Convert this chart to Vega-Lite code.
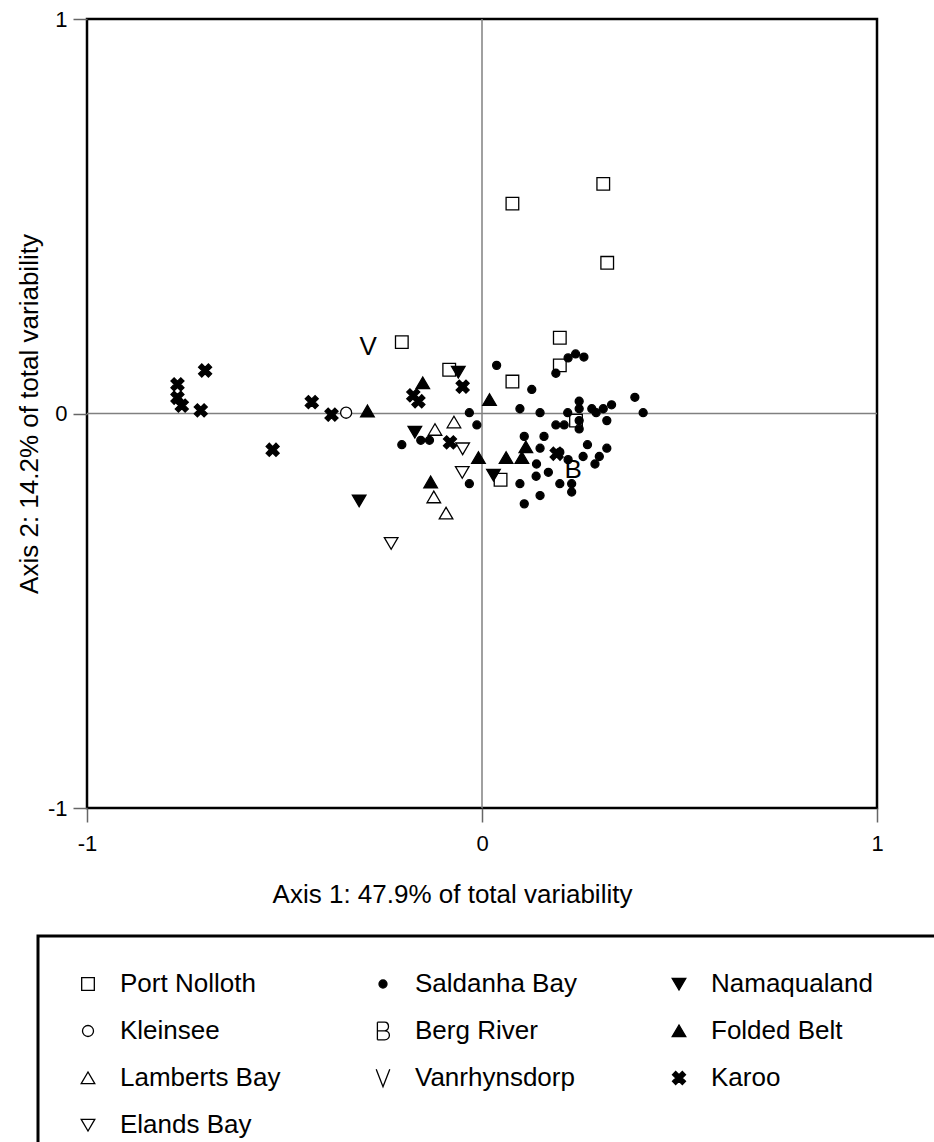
{
  "$schema": "https://vega.github.io/schema/vega-lite/v6.json",
  "width": 790,
  "height": 789,
  "autosize": {"type": "none"},
  "padding": {"left": 87, "top": 19, "right": 57, "bottom": 334},
  "background": "white",
  "config": {
    "view": {"stroke": "black", "strokeWidth": 2.5},
    "font": "Liberation Sans",
    "axis": {"grid": false, "domain": false, "tickSize": 14, "tickColor": "#666666", "tickWidth": 1.5, "labelFlush": false, "labelFont": "Liberation Sans", "labelFontSize": 22, "labelColor": "black", "titleFont": "Liberation Sans", "titleFontSize": 26, "titleFontWeight": "normal", "titleColor": "black", "labelOverlap": false}
  },
  "data": {"values": [
    {"site": "Port Nolloth", "x": 0.307, "y": 0.582},
    {"site": "Port Nolloth", "x": 0.077, "y": 0.532},
    {"site": "Port Nolloth", "x": 0.317, "y": 0.382},
    {"site": "Port Nolloth", "x": 0.197, "y": 0.192},
    {"site": "Port Nolloth", "x": 0.197, "y": 0.122},
    {"site": "Port Nolloth", "x": 0.077, "y": 0.081},
    {"site": "Port Nolloth", "x": -0.083, "y": 0.111},
    {"site": "Port Nolloth", "x": -0.203, "y": 0.181},
    {"site": "Port Nolloth", "x": 0.238, "y": -0.018},
    {"site": "Port Nolloth", "x": 0.047, "y": -0.168},
    {"site": "Saldanha Bay", "x": 0.037, "y": 0.122},
    {"site": "Saldanha Bay", "x": 0.187, "y": 0.102},
    {"site": "Saldanha Bay", "x": 0.218, "y": 0.141},
    {"site": "Saldanha Bay", "x": 0.237, "y": 0.151},
    {"site": "Saldanha Bay", "x": 0.258, "y": 0.143},
    {"site": "Saldanha Bay", "x": 0.126, "y": 0.061},
    {"site": "Saldanha Bay", "x": 0.096, "y": 0.012},
    {"site": "Saldanha Bay", "x": 0.147, "y": 0.002},
    {"site": "Saldanha Bay", "x": 0.217, "y": 0.002},
    {"site": "Saldanha Bay", "x": 0.246, "y": 0.031},
    {"site": "Saldanha Bay", "x": 0.246, "y": 0.012},
    {"site": "Saldanha Bay", "x": 0.278, "y": 0.012},
    {"site": "Saldanha Bay", "x": 0.289, "y": 0.002},
    {"site": "Saldanha Bay", "x": 0.307, "y": 0.012},
    {"site": "Saldanha Bay", "x": 0.328, "y": 0.022},
    {"site": "Saldanha Bay", "x": 0.387, "y": 0.041},
    {"site": "Saldanha Bay", "x": 0.408, "y": 0.002},
    {"site": "Saldanha Bay", "x": 0.246, "y": -0.018},
    {"site": "Saldanha Bay", "x": 0.246, "y": -0.039},
    {"site": "Saldanha Bay", "x": 0.316, "y": -0.018},
    {"site": "Saldanha Bay", "x": 0.187, "y": -0.029},
    {"site": "Saldanha Bay", "x": 0.208, "y": -0.029},
    {"site": "Saldanha Bay", "x": 0.107, "y": -0.058},
    {"site": "Saldanha Bay", "x": 0.157, "y": -0.058},
    {"site": "Saldanha Bay", "x": 0.147, "y": -0.088},
    {"site": "Saldanha Bay", "x": 0.197, "y": -0.098},
    {"site": "Saldanha Bay", "x": 0.218, "y": -0.117},
    {"site": "Saldanha Bay", "x": 0.267, "y": -0.079},
    {"site": "Saldanha Bay", "x": 0.256, "y": -0.109},
    {"site": "Saldanha Bay", "x": 0.297, "y": -0.109},
    {"site": "Saldanha Bay", "x": 0.316, "y": -0.088},
    {"site": "Saldanha Bay", "x": 0.286, "y": -0.128},
    {"site": "Saldanha Bay", "x": 0.138, "y": -0.128},
    {"site": "Saldanha Bay", "x": 0.168, "y": -0.149},
    {"site": "Saldanha Bay", "x": 0.137, "y": -0.159},
    {"site": "Saldanha Bay", "x": 0.096, "y": -0.178},
    {"site": "Saldanha Bay", "x": 0.197, "y": -0.178},
    {"site": "Saldanha Bay", "x": 0.227, "y": -0.178},
    {"site": "Saldanha Bay", "x": 0.227, "y": -0.199},
    {"site": "Saldanha Bay", "x": 0.147, "y": -0.208},
    {"site": "Saldanha Bay", "x": 0.107, "y": -0.229},
    {"site": "Saldanha Bay", "x": -0.032, "y": 0.002},
    {"site": "Saldanha Bay", "x": -0.013, "y": -0.029},
    {"site": "Saldanha Bay", "x": -0.203, "y": -0.079},
    {"site": "Saldanha Bay", "x": -0.155, "y": -0.068},
    {"site": "Saldanha Bay", "x": -0.133, "y": -0.068},
    {"site": "Saldanha Bay", "x": -0.032, "y": -0.178},
    {"site": "Namaqualand", "x": -0.060, "y": 0.105},
    {"site": "Namaqualand", "x": -0.170, "y": -0.047},
    {"site": "Namaqualand", "x": -0.311, "y": -0.221},
    {"site": "Namaqualand", "x": 0.029, "y": -0.156},
    {"site": "Kleinsee", "x": -0.344, "y": 0.002},
    {"site": "Berg River", "x": 0.231, "y": -0.140, "letter": "B"},
    {"site": "Folded Belt", "x": -0.150, "y": 0.077},
    {"site": "Folded Belt", "x": -0.290, "y": 0.006},
    {"site": "Folded Belt", "x": 0.019, "y": 0.035},
    {"site": "Folded Belt", "x": -0.009, "y": -0.112},
    {"site": "Folded Belt", "x": -0.130, "y": -0.174},
    {"site": "Folded Belt", "x": 0.061, "y": -0.112},
    {"site": "Folded Belt", "x": 0.101, "y": -0.112},
    {"site": "Folded Belt", "x": 0.111, "y": -0.085},
    {"site": "Lamberts Bay", "x": -0.119, "y": -0.041},
    {"site": "Lamberts Bay", "x": -0.071, "y": -0.022},
    {"site": "Lamberts Bay", "x": -0.122, "y": -0.212},
    {"site": "Lamberts Bay", "x": -0.091, "y": -0.253},
    {"site": "Vanrhynsdorp", "x": -0.288, "y": 0.172, "letter": "V"},
    {"site": "Karoo", "x": -0.701, "y": 0.109},
    {"site": "Karoo", "x": -0.771, "y": 0.074},
    {"site": "Karoo", "x": -0.771, "y": 0.040},
    {"site": "Karoo", "x": -0.760, "y": 0.020},
    {"site": "Karoo", "x": -0.712, "y": 0.008},
    {"site": "Karoo", "x": -0.431, "y": 0.029},
    {"site": "Karoo", "x": -0.381, "y": -0.003},
    {"site": "Karoo", "x": -0.530, "y": -0.092},
    {"site": "Karoo", "x": -0.174, "y": 0.046},
    {"site": "Karoo", "x": -0.161, "y": 0.031},
    {"site": "Karoo", "x": -0.049, "y": 0.068},
    {"site": "Karoo", "x": -0.081, "y": -0.073},
    {"site": "Karoo", "x": 0.189, "y": -0.102},
    {"site": "Elands Bay", "x": -0.049, "y": -0.089},
    {"site": "Elands Bay", "x": -0.050, "y": -0.149},
    {"site": "Elands Bay", "x": -0.230, "y": -0.329}
  ]},
  "layer": [
    {
      "data": {"values": [{"x": 0}]},
      "mark": {"type": "rule", "color": "#808080", "strokeWidth": 1.5},
      "encoding": {"x": {"field": "x", "type": "quantitative", "scale": {"domain": [-1, 1], "nice": false, "zero": false},
          "axis": {"values": [-1, 0, 1], "labelExpr": "datum.value < 0 ? '-1' : datum.value > 0 ? '1' : '0'", "title": "Axis 1: 47.9% of total variability", "labelFontSize": 22, "labelPadding": 11, "titlePadding": 27, "titleX": 365, "titleAlign": "center"}}}
    },
    {
      "data": {"values": [{"y": 0}]},
      "mark": {"type": "rule", "color": "#808080", "strokeWidth": 1.5},
      "encoding": {"y": {"field": "y", "type": "quantitative", "scale": {"domain": [-1, 1], "nice": false, "zero": false},
          "axis": {"values": [-1, 0, 1], "labelExpr": "datum.value < 0 ? '-1' : datum.value > 0 ? '1' : '0'", "title": "Axis 2: 14.2% of total variability", "labelFontSize": 22, "labelPadding": 6, "titlePadding": 5}}}
    },
    {
      "transform": [{"filter": "datum.site != 'Berg River' && datum.site != 'Vanrhynsdorp'"}],
      "mark": {"type": "point", "size": 256, "stroke": "black", "strokeWidth": 1.3, "opacity": 1},
      "encoding": {
        "x": {"field": "x", "type": "quantitative", "scale": {"domain": [-1, 1], "nice": false, "zero": false},
          "axis": {"values": [-1, 0, 1], "labelExpr": "datum.value < 0 ? '-1' : datum.value > 0 ? '1' : '0'", "title": "Axis 1: 47.9% of total variability", "labelFontSize": 22, "labelPadding": 11, "titlePadding": 27, "titleX": 365, "titleAlign": "center"}},
        "y": {"field": "y", "type": "quantitative", "scale": {"domain": [-1, 1], "nice": false, "zero": false},
          "axis": {"values": [-1, 0, 1], "labelExpr": "datum.value < 0 ? '-1' : datum.value > 0 ? '1' : '0'", "title": "Axis 2: 14.2% of total variability", "labelFontSize": 22, "labelPadding": 6, "titlePadding": 5}},
        "shape": {"field": "site", "type": "nominal",
          "scale": {
            "domain": ["Port Nolloth", "Saldanha Bay", "Namaqualand", "Kleinsee", "Berg River", "Folded Belt", "Lamberts Bay", "Vanrhynsdorp", "Karoo", "Elands Bay"],
            "range": [
              "M-0.79,-0.79L0.79,-0.79L0.79,0.79L-0.79,0.79Z",
              "M0.5,0A0.5,0.5,0,1,1,-0.5,0A0.5,0.5,0,1,1,0.5,0Z",
              "M-0.85,-0.7L0.85,-0.7L0,0.75Z",
              "M0.69,0A0.69,0.69,0,1,1,-0.69,0A0.69,0.69,0,1,1,0.69,0Z",
              "M-0.7,-1.1L-0.7,1.1M-0.7,-1.1L0.2,-1.1C0.85,-1.1,0.85,-0.02,0.2,-0.02L-0.7,-0.02M0.2,-0.02C1.0,-0.02,1.0,1.1,0.2,1.1L-0.7,1.1",
              "M-0.85,0.7L0.85,0.7L0,-0.75Z",
              "M-0.85,0.7L0.85,0.7L0,-0.75Z",
              "M-0.85,-1.1L0,1.1L0.85,-1.1",
              "M-0.417,0.813L0,0.396L0.417,0.813L0.813,0.417L0.396,0L0.813,-0.417L0.417,-0.813L0,-0.396L-0.417,-0.813L-0.813,-0.417L-0.396,0L-0.813,0.417Z",
              "M-0.85,-0.7L0.85,-0.7L0,0.75Z"
            ]
          },
          "legend": {"orient": "none", "legendX": -49, "legendY": 917, "direction": "horizontal", "columns": 3, "title": null, "padding": 35, "symbolOffset": 2, "symbolSize": 256, "symbolStrokeColor": "black", "symbolStrokeWidth": 1.3, "symbolOpacity": 1, "labelFont": "Liberation Sans", "labelFontSize": 26, "labelColor": "black", "labelOffset": 19, "labelLimit": 500, "rowPadding": 21, "columnPadding": 87, "strokeColor": "black", "labelExpr": "datum.label == 'Namaqualand' ? datum.label + '\u2800\u2800\u2800' : datum.label", "encode": {"legend": {"update": {"strokeWidth": {"value": 3}}}}}
        },
        "fill": {"field": "site", "type": "nominal",
          "scale": {
            "domain": ["Port Nolloth", "Saldanha Bay", "Namaqualand", "Kleinsee", "Berg River", "Folded Belt", "Lamberts Bay", "Vanrhynsdorp", "Karoo", "Elands Bay"],
            "range": ["white", "black", "black", "white", "transparent", "black", "white", "transparent", "black", "white"]
          },
          "legend": {"orient": "none", "legendX": -49, "legendY": 917, "direction": "horizontal", "columns": 3, "title": null, "padding": 35, "symbolOffset": 2, "symbolSize": 256, "symbolStrokeColor": "black", "symbolStrokeWidth": 1.3, "symbolOpacity": 1, "labelFont": "Liberation Sans", "labelFontSize": 26, "labelColor": "black", "labelOffset": 19, "labelLimit": 500, "rowPadding": 21, "columnPadding": 87, "strokeColor": "black", "labelExpr": "datum.label == 'Namaqualand' ? datum.label + '\u2800\u2800\u2800' : datum.label", "encode": {"legend": {"update": {"strokeWidth": {"value": 3}}}}}
        }
      }
    },
    {
      "transform": [{"filter": "datum.site == 'Berg River' || datum.site == 'Vanrhynsdorp'"}],
      "mark": {"type": "text", "font": "Liberation Sans", "fontSize": 26, "color": "black", "baseline": "middle", "align": "center", "dy": 1},
      "encoding": {
        "x": {"field": "x", "type": "quantitative", "scale": {"domain": [-1, 1], "nice": false, "zero": false},
          "axis": {"values": [-1, 0, 1], "labelExpr": "datum.value < 0 ? '-1' : datum.value > 0 ? '1' : '0'", "title": "Axis 1: 47.9% of total variability", "labelFontSize": 22, "labelPadding": 11, "titlePadding": 27, "titleX": 365, "titleAlign": "center"}},
        "y": {"field": "y", "type": "quantitative", "scale": {"domain": [-1, 1], "nice": false, "zero": false},
          "axis": {"values": [-1, 0, 1], "labelExpr": "datum.value < 0 ? '-1' : datum.value > 0 ? '1' : '0'", "title": "Axis 2: 14.2% of total variability", "labelFontSize": 22, "labelPadding": 6, "titlePadding": 5}},
        "text": {"field": "letter", "type": "nominal"}
      }
    }
  ]
}
